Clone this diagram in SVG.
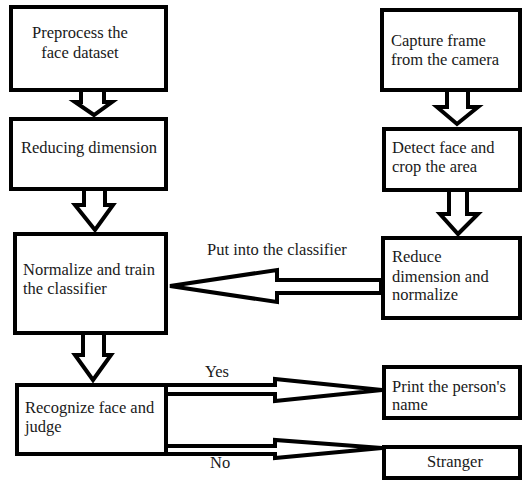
<svg xmlns="http://www.w3.org/2000/svg" width="525" height="482" viewBox="0 0 525 482">
<style>
.box{fill:#fff;stroke:#000;stroke-width:4}
.arr{fill:#fff;stroke:#000;stroke-width:4}
text{font-family:"Liberation Serif","Times New Roman",serif;font-size:16.5px;fill:#1a1a1a}
.c{text-anchor:middle}
</style>
<rect width="525" height="482" fill="#fff"/>
<g id="connectors">
<polygon class="arr" points="81,90 81,102 75,102 94,115 112,102 104,102 104,90"/>
<polygon class="arr" points="84,189 84,205 75,205 95,230 113,205 105,205 105,189"/>
<polygon class="arr" points="83,333 83,355 75,355 93,380 111,355 104,355 104,333"/>
<polygon class="arr" points="447,90 447,107 437,107 457,124 478,107 468,107 468,90"/>
<polygon class="arr" points="449,190 449,214 440,214 458,234 478,214 467,214 467,190"/>
<polygon class="arr" points="381,280 277,280 277,270 170,286 277,302 277,293 381,293"/>
<polygon class="arr" points="166,385 275,385 275,379 382,390 275,401 275,394 166,394"/>
<polygon class="arr" points="166,446 275,446 275,440 382,448 275,458 275,454 166,454"/>
<text x="207" y="255">Put into the classifier</text>
<text x="205" y="377">Yes</text>
<text x="210" y="468">No</text>
</g>
<g id="preprocess"><rect class="box" x="11" y="7" width="155" height="83"/>
<text class="c" x="80" y="38">Preprocess the</text><text class="c" x="80" y="58">face dataset</text></g>
<g id="reducing"><rect class="box" x="11" y="119" width="155" height="70"/>
<text x="21" y="153">Reducing dimension</text></g>
<g id="normalize-train"><rect class="box" x="15" y="234" width="151" height="99"/>
<text x="23" y="275">Normalize and train</text><text x="23" y="294">the classifier</text></g>
<g id="recognize"><rect class="box" x="17" y="385" width="149" height="69"/>
<text x="25" y="413">Recognize face and</text><text x="25" y="432">judge</text></g>
<g id="capture"><rect class="box" x="382" y="10" width="138" height="80"/>
<text x="391" y="46">Capture frame</text><text x="391" y="65">from the camera</text></g>
<g id="detect"><rect class="box" x="384" y="129" width="136" height="61"/>
<text x="392" y="153">Detect face and</text><text x="392" y="172">crop the area</text></g>
<g id="reduce"><rect class="box" x="383" y="238" width="137" height="80"/>
<text x="392" y="262">Reduce</text><text x="392" y="282">dimension and</text><text x="392" y="300">normalize</text></g>
<g id="print"><rect class="box" x="384" y="367" width="136" height="51"/>
<text x="392" y="392">Print the person's</text><text x="392" y="410">name</text></g>
<g id="stranger"><rect class="box" x="384" y="447" width="136" height="31"/>
<text x="427" y="467">Stranger</text></g>
</svg>
